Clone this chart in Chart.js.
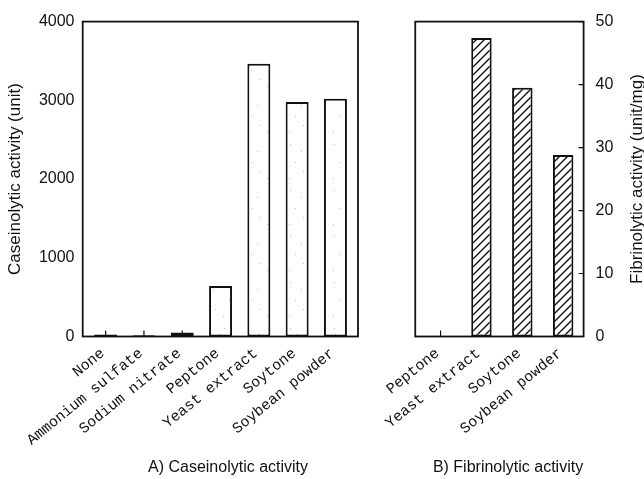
<!DOCTYPE html>
<html>
<head>
<meta charset="utf-8">
<script src="https://cdn.jsdelivr.net/npm/chart.js@4"></script>
<style>
  body { margin: 0; background: #fff; }
  #wrap { position: relative; width: 644px; height: 479px; overflow: hidden; }
  .panel { position: absolute; top: 0; height: 479px; }
  .caption { position: absolute; top: 458px; font: 16px "Liberation Sans", Arial, sans-serif; color: #111; white-space: nowrap; transform: translateX(-50%); }
</style>
</head>
<body>
<div id="wrap">
  <div class="panel" style="left:0;width:370px"><canvas id="caseinChart"></canvas></div>
  <div class="panel" style="left:380px;width:264px"><canvas id="fibrinChart"></canvas></div>
  <div class="caption" style="left:228px">A) Caseinolytic activity</div>
  <div class="caption" style="left:508px">B) Fibrinolytic activity</div>
</div>
<script>
// -----------------------------
// DATA
// -----------------------------
const caseinLabels = ["None", "Ammonium sulfate", "Sodium nitrate", "Peptone", "Yeast extract", "Soytone", "Soybean powder"];
const caseinValues = [25, 15, 50, 640, 3465, 2980, 3020];
const caseinTicks = [0, 1000, 2000, 3000, 4000];

const fibrinLabels = ["Peptone", "Yeast extract", "Soytone", "Soybean powder"];
const fibrinValues = [0, 47.4, 39.5, 28.8];
const fibrinTicks = [0, 10, 20, 30, 40, 50];

const caseinTitle = "Caseinolytic activity (unit)";
const fibrinTitle = "Fibrinolytic activity (unit/mg)";

const sansFont = "'Liberation Sans', Arial, sans-serif";
const monoFont = "'Liberation Mono', 'Courier New', monospace";

const PLOT_TOP = 18;

// -----------------------------
// FILL PATTERNS
// -----------------------------
function dotPattern(ctx) {
    const c = document.createElement("canvas");
    c.width = 22; c.height = 46;
    const g = c.getContext("2d");
    g.fillStyle = "#fff";
    g.fillRect(0, 0, c.width, c.height);
    g.fillStyle = "#bbb";
    [[4, 6], [15, 13], [9, 24], [17, 33], [3, 40]].forEach(p => g.fillRect(p[0], p[1], 1, 1));
    return ctx.createPattern(c, "repeat");
}

function hatchPattern(ctx) {
    const c = document.createElement("canvas");
    c.width = 8; c.height = 8;
    const g = c.getContext("2d");
    g.fillStyle = "#fff";
    g.fillRect(0, 0, 8, 8);
    g.strokeStyle = "#111";
    g.lineWidth = 1.4;
    g.beginPath();
    g.moveTo(-2, 10); g.lineTo(10, -2);
    g.moveTo(-6, 6); g.lineTo(6, -6);
    g.moveTo(2, 14); g.lineTo(14, 2);
    g.stroke();
    return ctx.createPattern(c, "repeat");
}

// -----------------------------
// FRAME + INNER TICKS + TITLE
// -----------------------------
function framePlugin(opts) {
    return {
        id: "frame",
        beforeDatasetsDraw(chart) {
            const { ctx, chartArea } = chart;
            const x = chart.scales.x;
            const y = chart.scales.y;
            ctx.save();
            ctx.strokeStyle = "#111";
            ctx.lineWidth = 1.2;
            ctx.beginPath();
            x.ticks.forEach((_, i) => {
                const px = x.getPixelForTick(i);
                ctx.moveTo(px, chartArea.bottom);
                ctx.lineTo(px, chartArea.bottom - 6);
            });
            if (opts.yTicksRight) {
                y.ticks.forEach((_, i) => {
                    const py = y.getPixelForTick(i);
                    ctx.moveTo(chartArea.right, py);
                    ctx.lineTo(chartArea.right - 5, py);
                });
            }
            ctx.stroke();
            ctx.restore();
        },
        afterDraw(chart) {
            const { ctx, chartArea } = chart;
            ctx.save();
            ctx.strokeStyle = "#111";
            ctx.lineWidth = 1.8;
            const l = chartArea.left - opts.padLeft;
            const r = chartArea.right + opts.padRight;
            ctx.strokeRect(l, chartArea.top, r - l, chartArea.bottom - chartArea.top);

            ctx.translate(opts.titleX, (chartArea.top + chartArea.bottom) / 2);
            ctx.rotate(-Math.PI / 2);
            ctx.fillStyle = "#111";
            ctx.font = "17px " + sansFont;
            ctx.textAlign = "center";
            ctx.textBaseline = "middle";
            ctx.fillText(opts.title, 0, 0);
            ctx.restore();
        }
    };
}

function makeChart(id, labels, values, ticks, cfg) {
    const ctx = document.getElementById(id).getContext("2d");
    const fill = cfg.hatch ? hatchPattern(ctx) : dotPattern(ctx);

    const chart = new Chart(ctx, {
        type: "bar",
        data: {
            labels: labels,
            datasets: [{
                data: values,
                backgroundColor: fill,
                borderColor: "#111",
                borderWidth: 2,
                borderSkipped: false,
                barPercentage: cfg.barPct,
                categoryPercentage: 1
            }]
        },
        options: {
            responsive: true,
            maintainAspectRatio: false,
            animation: false,
            layout: { padding: cfg.padding },
            plugins: { legend: { display: false }, tooltip: { enabled: false } },
            scales: {
                x: {
                    grid: { display: false, drawTicks: false },
                    border: { display: false },
                    ticks: {
                        color: "#111",
                        font: { family: monoFont, size: 15 },
                        minRotation: 39,
                        maxRotation: 39,
                        autoSkip: false,
                        padding: 8,
                        labelOffset: -3
                    },
                    afterFit(scale) { scale.height = cfg.xHeight; }
                },
                y: {
                    position: cfg.yPos,
                    min: ticks[0],
                    max: ticks[ticks.length - 1],
                    afterBuildTicks(scale) { scale.ticks = ticks.map(v => ({ value: v })); },
                    grid: { display: false, drawTicks: false },
                    border: { display: false },
                    ticks: {
                        color: "#111",
                        font: { family: sansFont, size: 16 },
                        padding: 12,
                        callback: v => String(v)
                    },
                    afterFit(scale) { scale.width = cfg.yWidth; }
                }
            }
        },
        plugins: [framePlugin(cfg.frame)]
    });

    // pull the plot top to the wanted line
    const diff = chart.chartArea.top - PLOT_TOP;
    if (Math.abs(diff) > 0.2) {
        chart.options.layout.padding.top -= diff;
        chart.update();
    }
    return chart;
}

makeChart("caseinChart", caseinLabels, caseinValues, caseinTicks, {
    hatch: false,
    barPct: 0.6,
    padding: { top: PLOT_TOP, right: 15.4, left: 0, bottom: 0 },
    xHeight: 142.5,
    yWidth: 86.5,
    yPos: "left",
    frame: { padLeft: 3.8, padRight: 3.4, title: caseinTitle, titleX: 15, yTicksRight: false }
});

makeChart("fibrinChart", fibrinLabels, fibrinValues, fibrinTicks, {
    hatch: true,
    barPct: 0.5,
    padding: { top: PLOT_TOP, right: 0, left: 28.9, bottom: 0 },
    xHeight: 142.5,
    yWidth: 60.4,
    yPos: "right",
    frame: { padLeft: 4.9, padRight: 0, title: fibrinTitle, titleX: 257, yTicksRight: true }
});
</script>
</body>
</html>
